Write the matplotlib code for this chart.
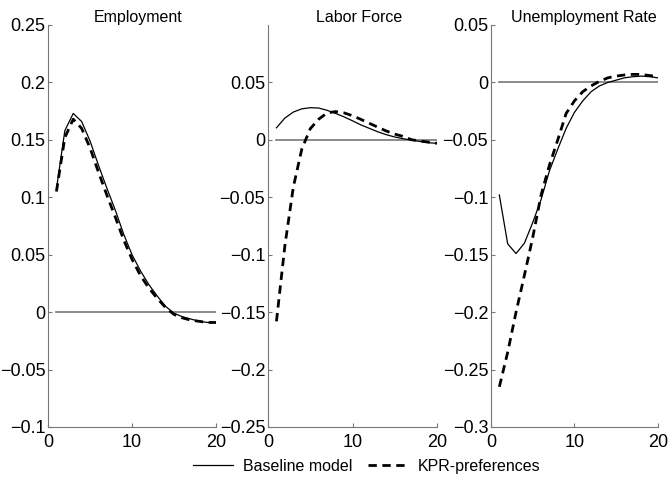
import numpy as np
import matplotlib.pyplot as plt

plt.rcParams['font.family'] = ['Liberation Sans', 'DejaVu Sans']

quarters = np.arange(1, 21)

# Employment
emp_base = [0.107, 0.158, 0.173, 0.166, 0.149, 0.128, 0.108, 0.089, 0.068, 0.050,
            0.036, 0.024, 0.014, 0.005, -0.001, -0.004, -0.006, -0.008, -0.009, -0.009]
emp_kpr = [0.105, 0.152, 0.168, 0.160, 0.143, 0.122, 0.102, 0.083, 0.063, 0.046,
           0.032, 0.021, 0.012, 0.004, -0.002, -0.005, -0.007, -0.008, -0.009, -0.009]

# Labor force
lf_base = [0.0105, 0.019, 0.0242, 0.027, 0.028, 0.0277, 0.0257, 0.023, 0.020, 0.0166,
           0.013, 0.010, 0.007, 0.0045, 0.0025, 0.001, -0.0003, -0.0014, -0.0025, -0.003]
lf_kpr = [-0.158, -0.092, -0.041, -0.008, 0.0097, 0.018, 0.0235, 0.0246, 0.0235, 0.021,
          0.0178, 0.0144, 0.011, 0.0077, 0.005, 0.003, 0.0001, -0.001, -0.002, -0.003]

# Unemployment rate
ur_base = [-0.098, -0.1405, -0.149, -0.140, -0.122, -0.102, -0.077, -0.058, -0.040, -0.026,
           -0.016, -0.008, -0.003, 0.000, 0.002, 0.004, 0.005, 0.0055, 0.005, 0.004]
ur_kpr = [-0.265, -0.235, -0.200, -0.168, -0.135, -0.098, -0.072, -0.050, -0.027, -0.016,
          -0.008, -0.003, 0.001, 0.004, 0.0055, 0.0065, 0.007, 0.007, 0.006, 0.005]

titles = ["Employment", "Labor Force", "Unemployment Rate"]
ylims = [(-0.1, 0.25), (-0.25, 0.1), (-0.3, 0.05)]
yticks = [[-0.1, -0.05, 0, 0.05, 0.1, 0.15, 0.2, 0.25],
          [-0.25, -0.2, -0.15, -0.1, -0.05, 0, 0.05],
          [-0.3, -0.25, -0.2, -0.15, -0.1, -0.05, 0, 0.05]]
yticklabels = [["\u22120.1", "\u22120.05", "0", "0.05", "0.1", "0.15", "0.2", "0.25"],
               ["\u22120.25", "\u22120.2", "\u22120.15", "\u22120.1", "\u22120.05", "0", "0.05"],
               ["\u22120.3", "\u22120.25", "\u22120.2", "\u22120.15", "\u22120.1", "\u22120.05", "0", "0.05"]]
base_series = [emp_base, lf_base, ur_base]
kpr_series = [emp_kpr, lf_kpr, ur_kpr]

fig = plt.figure(figsize=(6.68, 4.78), dpi=100)
lefts = [0.0719, 0.4012, 0.735]
widths = [0.2515, 0.253, 0.25]
title_x = [0.536, 0.538, 0.558]
gray = '#777777'

handles = []
for i in range(3):
    ax = fig.add_axes([lefts[i], 0.1067, widths[i], 0.841])
    ax.plot([1, 20], [0, 0], color=gray, lw=1.2)
    h1, = ax.plot(quarters, base_series[i], color='black', lw=0.9)
    h2, = ax.plot(quarters, kpr_series[i], color='black', lw=2.0, dashes=(3, 2))
    handles = [h1, h2]
    ax.set_xlim(0, 20)
    ax.set_ylim(*ylims[i])
    ax.set_xticks([0, 10, 20])
    ax.set_yticks(yticks[i])
    ax.set_yticklabels(yticklabels[i])
    ax.spines['top'].set_visible(False)
    ax.spines['right'].set_visible(False)
    ax.spines['left'].set_color(gray)
    ax.spines['bottom'].set_color(gray)
    ax.tick_params(direction='in', length=3, color=gray, labelsize=13)
    ax.tick_params(axis='y', pad=2)
    ax.tick_params(axis='x', pad=5)
    ax.set_title(titles[i], fontsize=11.5, x=title_x[i], pad=1.5)

fig.legend(handles, ["Baseline model", "KPR-preferences"], loc='center',
           bbox_to_anchor=(0.549, 0.025), ncol=2, frameon=False, fontsize=11.5,
           handlelength=2.5, handletextpad=0.6, columnspacing=1.0)

fig.savefig('out.png', dpi=100)
